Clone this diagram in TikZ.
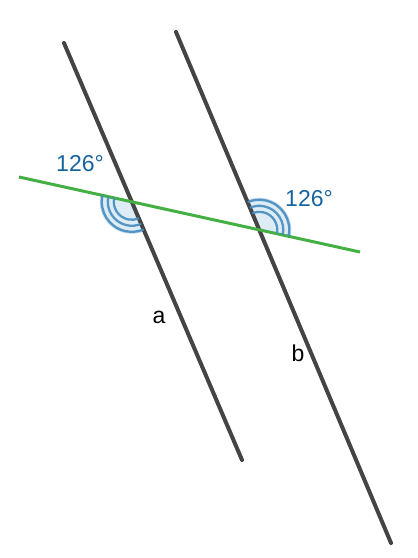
\documentclass[tikz,border=0pt]{standalone}
\usepackage{fontspec}
\setmainfont{Liberation Sans}
\definecolor{linegray}{RGB}{68,68,68}
\definecolor{lgreen}{RGB}{68,176,68}
\definecolor{arcblue}{RGB}{70,140,190}
\definecolor{labblue}{RGB}{22,100,158}
\definecolor{fillblue}{RGB}{222,236,246}
\definecolor{haloblue}{RGB}{190,216,236}
\begin{document}
\begin{tikzpicture}[x=1pt,y=1pt,
  parline/.style={draw=linegray, line width=4pt, line cap=round},
  transline/.style={draw=lgreen, line width=3pt},
  sector/.style={fill=fillblue, draw=haloblue, line width=2pt},
  anglearc/.style={draw=arcblue, line width=2.3pt, opacity=0.9},
  anglelabel/.style={text=labblue, font=\fontsize{23}{23}\selectfont},
  linelabel/.style={text=black, font=\fontsize{23}{23}\selectfont}]
\useasboundingbox (0,0) rectangle (418,558);
\coordinate (A1) at (64,515);
\coordinate (A2) at (242,98);
\coordinate (B1) at (176,526);
\coordinate (B2) at (391,15);
\coordinate (G1) at (19,381);
\coordinate (G2) at (360,306);
\coordinate (P) at (intersection of A1--A2 and G1--G2);
\coordinate (Q) at (intersection of B1--B2 and G1--G2);
% sectors
\filldraw[sector] (P) -- ++(167.6:31) arc[start angle=167.6, end angle=293.1, radius=31] -- cycle;
\filldraw[sector] (Q) -- ++(-12.4:31) arc[start angle=-12.4, end angle=112.8, radius=31] -- cycle;
% lines
\draw[parline] (A1) -- (A2);
\draw[parline] (B1) -- (B2);
\draw[transline] (G1) -- (G2);
% arcs
\foreach \r in {18,24,30}{
  \draw[anglearc] (P) ++(167.6:\r) arc[start angle=167.6, end angle=293.1, radius=\r];
  \draw[anglearc] (Q) ++(-12.4:\r) arc[start angle=-12.4, end angle=112.8, radius=\r];
}
% labels
\node[anglelabel] (la) at (80,394) {126°};
\node[anglelabel] (lb) at (309,359) {126°};
\node[linelabel] (na) at (159,241) {a};
\node[linelabel] (nb) at (298,205) {b};
\end{tikzpicture}
\end{document}
